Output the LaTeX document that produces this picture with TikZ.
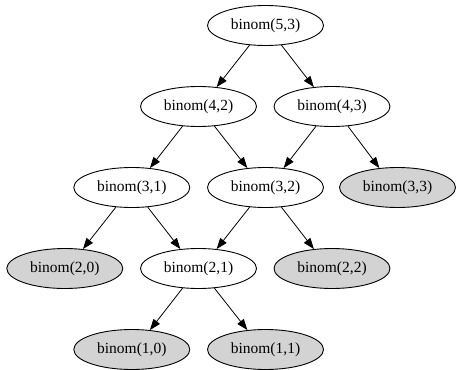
\documentclass[tikz,border=0pt]{standalone}
\usepackage{fontspec}
\setmainfont{Liberation Serif}
\usetikzlibrary{shapes.geometric,arrows.meta}
\definecolor{lgray}{HTML}{D3D3D3}
\tikzset{
  bnode/.style={ellipse,draw=black,line width=0.9pt,minimum width=116pt,minimum height=40pt,inner sep=0pt,font=\fontsize{15.5}{18}\selectfont},
  leaf/.style={bnode,fill=lgray},
  edge/.style={draw=black,line width=0.8pt,-{Triangle[length=11pt,width=8pt]}}
}
\begin{document}
\begin{tikzpicture}[x=1pt,y=-1pt]
\useasboundingbox (0,0) rectangle (457,369);
\node[bnode] (n53) at (265.5,25.5) {binom(5,3)};
\node[bnode] (n42) at (198.5,106.5) {binom(4,2)};
\node[bnode] (n43) at (332,106.5) {binom(4,3)};
\node[bnode] (n31) at (131.8,187.5) {binom(3,1)};
\node[bnode] (n32) at (265.5,187.5) {binom(3,2)};
\node[leaf]  (n33) at (397.5,187.5) {binom(3,3)};
\node[leaf]  (n20) at (64.8,268.5) {binom(2,0)};
\node[bnode] (n21) at (198.5,268.5) {binom(2,1)};
\node[leaf]  (n22) at (332,268.5) {binom(2,2)};
\node[leaf]  (n10) at (131.8,349.5) {binom(1,0)};
\node[leaf]  (n11) at (265.5,349.5) {binom(1,1)};
\draw[edge] (n53.231) -- (n42.47);
\draw[edge] (n53.309) -- (n43.133);
\draw[edge] (n42.231) -- (n31.47);
\draw[edge] (n42.309) -- (n32.133);
\draw[edge] (n43.231) -- (n32.47);
\draw[edge] (n43.309) -- (n33.133);
\draw[edge] (n31.231) -- (n20.47);
\draw[edge] (n31.309) -- (n21.133);
\draw[edge] (n32.231) -- (n21.47);
\draw[edge] (n32.309) -- (n22.133);
\draw[edge] (n21.231) -- (n10.47);
\draw[edge] (n21.309) -- (n11.133);
\end{tikzpicture}
\end{document}
